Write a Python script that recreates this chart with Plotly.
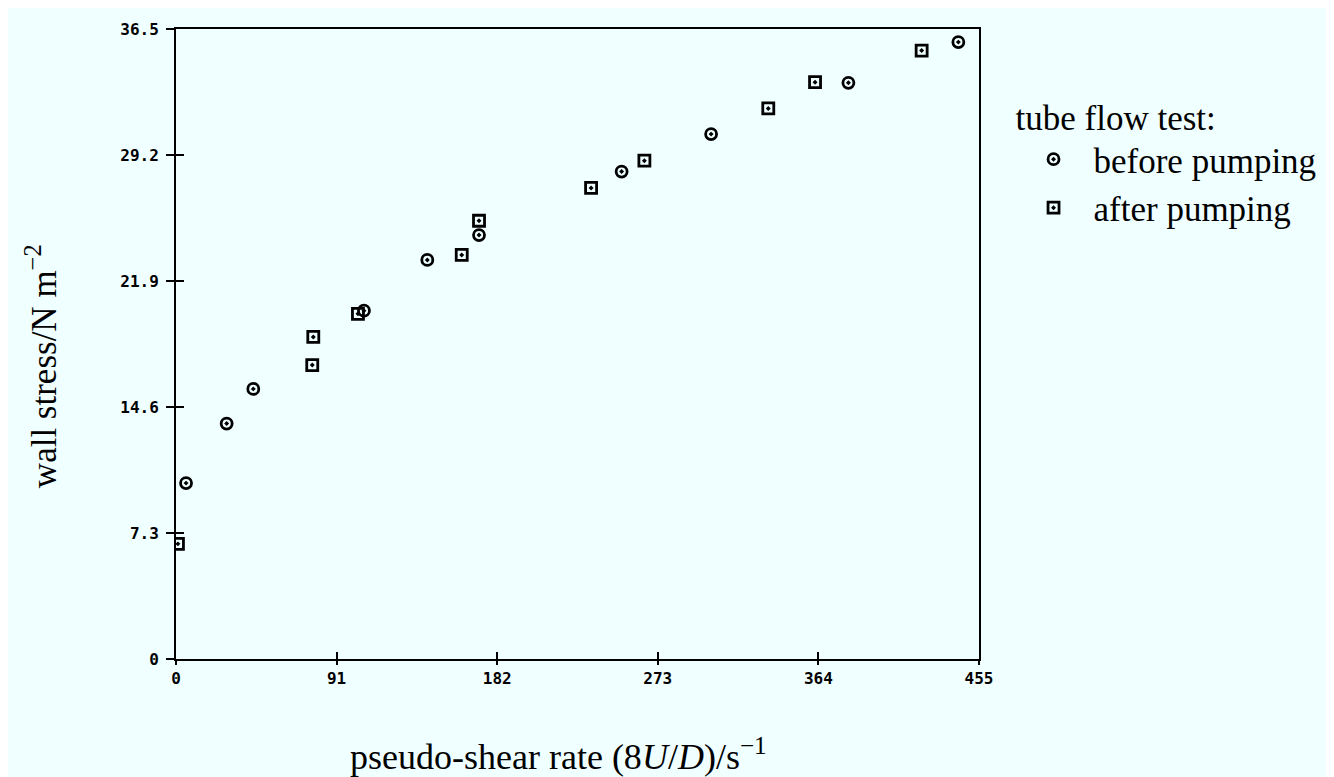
import plotly.graph_objects as go

# before pumping (circles)
before_x = [5.7, 28.7, 43.8, 106.5, 142.4, 171.7, 252.5, 303.2, 381.0, 443.3]
before_y = [10.19, 13.64, 15.65, 20.18, 23.12, 24.56, 28.24, 30.41, 33.38, 35.74]

# after pumping (squares)
after_x = [1.1, 77.8, 77.2, 103.1, 161.9, 171.7, 235.2, 265.4, 335.6, 362.1, 422.5]
after_y = [6.67, 18.66, 17.03, 20.0, 23.41, 25.39, 27.29, 28.87, 31.9, 33.42, 35.25]

x_ticks = [0, 91, 182, 273, 364, 455]
y_ticks = [0, 7.3, 14.6, 21.9, 29.2, 36.5]
y_tick_text = ["0", "7.3", "14.6", "21.9", "29.2", "36.5"]

bg = "#F0FFFF"
serif = "Liberation Serif"
tickfont = dict(family="DejaVu Sans Mono", size=16, color="black", weight="bold")

fig = go.Figure()
fig.add_trace(go.Scatter(
    x=before_x, y=before_y, mode="markers", name="before pumping",
    marker=dict(symbol="circle-open-dot", size=11, color="black",
                line=dict(width=2.8, color="black")),
))
fig.add_trace(go.Scatter(
    x=after_x, y=after_y, mode="markers", name="after pumping",
    marker=dict(symbol="square-open-dot", size=11, color="black",
                line=dict(width=2.8, color="black")),
))
# helper trace so the overlay axes (inner tick marks) are drawn
fig.add_trace(go.Scatter(x=[None], y=[None], xaxis="x2", yaxis="y2",
                         showlegend=False, hoverinfo="skip"))

fig.update_layout(
    width=1326, height=769,
    paper_bgcolor=bg, plot_bgcolor=bg,
    margin=dict(l=168, r=355, t=16, b=118),
    showlegend=True,
    legend=dict(
        x=1.043, y=0.912, xanchor="left", yanchor="top",
        bgcolor="rgba(0,0,0,0)",
        font=dict(family=serif, size=35, color="black"),
        title=dict(text="tube flow test:", side="top",
                   font=dict(family=serif, size=35, color="black")),
        itemwidth=70,
        tracegroupgap=0,
    ),
    xaxis=dict(
        range=[0, 455], tickvals=x_ticks, ticktext=[str(v) for v in x_ticks],
        showline=True, linecolor="black", linewidth=2, mirror=True,
        ticks="outside", ticklen=4, tickwidth=2, tickcolor="black",
        showgrid=False, zeroline=False, tickfont=tickfont,
    ),
    yaxis=dict(
        range=[0, 36.5], tickvals=y_ticks, ticktext=y_tick_text,
        showline=True, linecolor="black", linewidth=2, mirror=True,
        ticks="outside", ticklen=8, tickwidth=2, tickcolor="black",
        showgrid=False, zeroline=False, tickfont=tickfont,
        ticklabelstandoff=4,
    ),
    xaxis2=dict(
        range=[0, 455], tickvals=x_ticks, overlaying="x", anchor="y2",
        side="bottom", ticks="inside", ticklen=7, tickwidth=2,
        tickcolor="black", showticklabels=False, showline=False,
        showgrid=False, zeroline=False,
    ),
    yaxis2=dict(
        range=[0, 36.5], tickvals=y_ticks, overlaying="y", anchor="x2",
        side="left", ticks="inside", ticklen=8, tickwidth=2,
        tickcolor="black", showticklabels=False, showline=False,
        showgrid=False, zeroline=False,
    ),
    annotations=[
        dict(text="pseudo-shear rate (8<i>U</i>/<i>D</i>)/s<sup>−1</sup>",
             xref="paper", yref="paper", x=0.476, y=-0.152,
             xanchor="center", yanchor="middle", showarrow=False,
             font=dict(family=serif, size=36, color="black")),
        dict(text="wall stress/N m<sup>−2</sup>",
             xref="paper", yref="paper", x=-0.168, y=0.465,
             xanchor="center", yanchor="middle", showarrow=False,
             textangle=-90,
             font=dict(family=serif, size=35, color="black")),
    ],
)

fig.write_html("out.html")
